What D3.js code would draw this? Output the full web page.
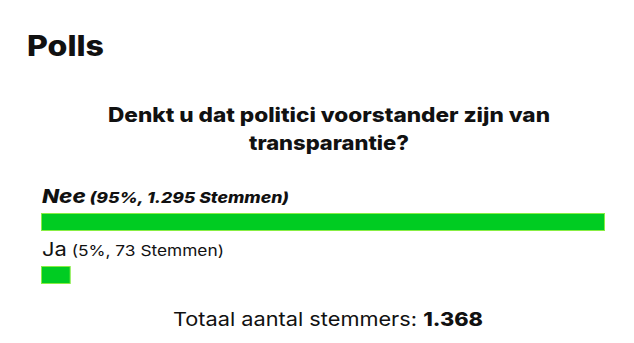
<!DOCTYPE html>
<html><head><meta charset="utf-8">
<script src="https://cdn.jsdelivr.net/npm/d3@7"></script>
<style>body{margin:0;background:#fff}svg{display:block}text{font-family:Inter,"Open Sans",sans-serif;fill:#111}</style>
</head><body>
<script>
const categories = ["Nee", "Ja"];
const votes = [1295, 73];
const percents = [95, 5];
const totalVotes = 1368;
const title = "Polls";
const questionLines = ["Denkt u dat politici voorstander zijn van", "transparantie?"];

const W = 634, H = 343;
const svg = d3.select("body").append("svg").attr("width", W).attr("height", H);
const fmt = n => d3.format(",")(n).replace(/,/g, ".");

svg.append("text").attr("x", 27).attr("y", 56).attr("font-size", 28).attr("font-weight", 800)
  .attr("textLength", 77).attr("lengthAdjust", "spacingAndGlyphs").text(title);

const qLens = [442, 160];
questionLines.forEach((l, i) => {
  svg.append("text").attr("x", 329).attr("y", 122 + i * 28).attr("text-anchor", "middle")
    .attr("font-size", 20).attr("font-weight", 800)
    .attr("textLength", qLens[i]).attr("lengthAdjust", "spacingAndGlyphs").text(l);
});

const x = d3.scaleLinear().domain([0, d3.max(percents)]).range([41, 605]);
const rowY = d3.scaleBand().domain(categories).range([185, 291]).paddingInner(0);
const labelLens = [247, 182];
const maxIdx = d3.maxIndex(votes);

categories.forEach((c, i) => {
  const y0 = rowY(c);
  const isMax = i === maxIdx;
  const t = svg.append("text").attr("x", 42).attr("y", y0 + 18)
    .attr("font-weight", isMax ? 800 : 400).attr("font-style", isMax ? "italic" : "normal")
    .attr("textLength", labelLens[i]).attr("lengthAdjust", "spacingAndGlyphs");
  t.append("tspan").attr("font-size", 19).text(c);
  t.append("tspan").attr("font-size", 15).text(` (${percents[i]}%, ${fmt(votes[i])} Stemmen)`);
  svg.append("rect").attr("x", x(0) + 0.5).attr("y", y0 + 28.5)
    .attr("width", x(percents[i]) - x(0) - 1).attr("height", 17)
    .attr("fill", "#00cc22").attr("stroke", "#88ee44").attr("stroke-width", 1);
});

const tt = svg.append("text").attr("x", 328).attr("y", 326).attr("text-anchor", "middle")
  .attr("font-size", 19).attr("textLength", 310).attr("lengthAdjust", "spacingAndGlyphs");
tt.append("tspan").text("Totaal aantal stemmers: ");
tt.append("tspan").attr("font-weight", 800).text(fmt(totalVotes));
</script>
</body></html>
